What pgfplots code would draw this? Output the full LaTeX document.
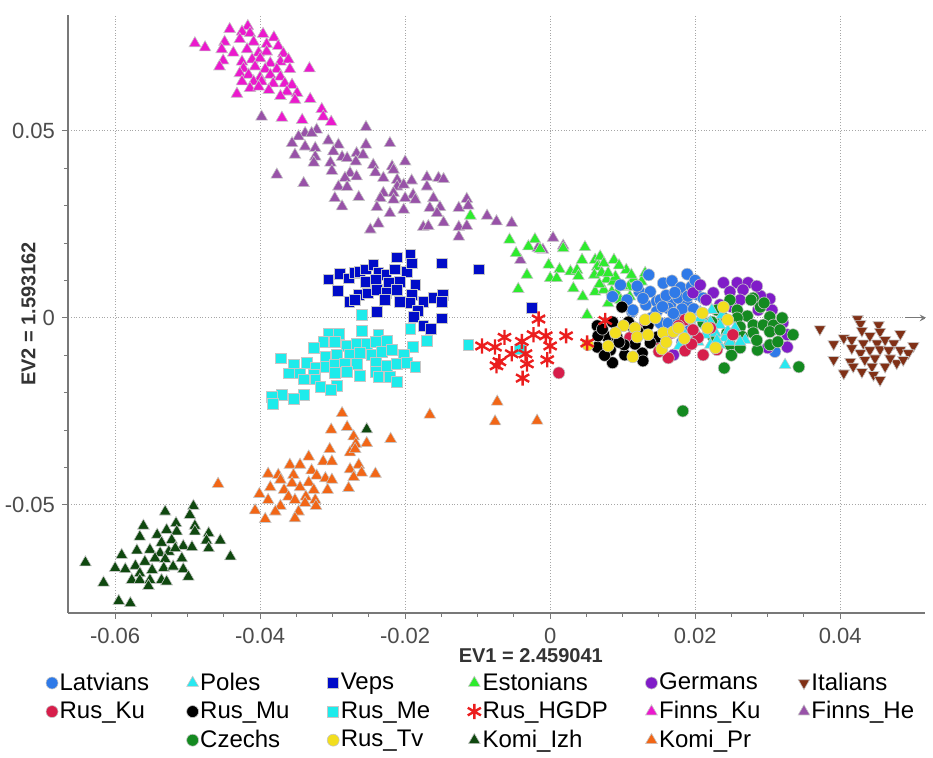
\documentclass[border=0pt]{standalone}
\usepackage{pgfplots}
\pgfplotsset{compat=1.18}
\usepackage{fontspec}
\setmainfont{Liberation Sans}
\definecolor{cLat}{RGB}{47,122,232}
\definecolor{cPol}{RGB}{40,232,240}
\definecolor{cVep}{RGB}{0,12,200}
\definecolor{cEst}{RGB}{45,235,45}
\definecolor{cGer}{RGB}{128,28,200}
\definecolor{cIta}{RGB}{128,48,22}
\definecolor{cRku}{RGB}{215,30,75}
\definecolor{cRmu}{RGB}{0,0,0}
\definecolor{cRme}{RGB}{30,235,235}
\definecolor{cHGD}{RGB}{235,30,30}
\definecolor{cFku}{RGB}{235,25,205}
\definecolor{cFhe}{RGB}{152,82,168}
\definecolor{cCze}{RGB}{20,138,32}
\definecolor{cRtv}{RGB}{242,222,30}
\definecolor{cKiz}{RGB}{15,72,15}
\definecolor{cKpr}{RGB}{242,102,22}
\definecolor{spine}{RGB}{120,120,120}
\pgfplotsset{
 circ/.style={only marks, mark=*, mark size=3.0pt, mark options={fill=#1, draw=white!55!gray, line width=0.3pt}},
 tri/.style={only marks, mark=triangle*, mark size=3.4pt, mark options={fill=#1, draw=white!55!gray, line width=0.3pt}},
 sq/.style={only marks, mark=square*, mark size=2.7pt, mark options={fill=#1, draw=white!55!gray, line width=0.3pt}},
 dtri/.style={only marks, mark=triangle*, mark size=3.3pt, mark options={rotate=180, fill=#1, draw=white!55!gray, line width=0.3pt}},
 stars/.style={only marks, mark=asterisk, mark size=3.8pt, mark options={draw=#1, line width=1.2pt}},
}
\begin{document}
\begin{tikzpicture}
\useasboundingbox (0,0) rectangle (466.5pt,379pt);
\begin{axis}[
 at={(34pt,72.5pt)}, anchor=south west,
 scale only axis, width=428.5pt, height=299pt,
 xmin=-0.0665, xmax=0.0517, ymin=-0.0789, ymax=0.081,
 axis x line*=bottom, axis y line*=left,
 axis line style={spine, line width=0.8pt},
 scaled ticks=false,
 xtick={-0.06,-0.04,-0.02,0,0.02,0.04},
 xticklabels={-0.06,-0.04,-0.02,0,0.02,0.04},
 ytick={-0.05,0,0.05},
 yticklabels={-0.05,0,0.05},
 minor x tick num=3, minor y tick num=4,
 tick align=outside,
 major tick length=3pt, minor tick length=2pt,
 tick style={spine, line width=0.5pt},
 grid=major,
 major grid style={densely dotted, gray!70, line width=0.5pt},
 xticklabel style={font=\fontsize{11}{13}\selectfont, text=black!70, yshift=-1pt},
 yticklabel style={font=\fontsize{11}{13}\selectfont, text=black!70},
 xlabel={\textbf{EV1 = 2.459041}},
 ylabel={\textbf{EV2 = 1.593162}},
 xlabel style={font=\fontsize{10}{12}\selectfont, text=black!80, at={(axis description cs:0.54,-0.072)}, anchor=center},
 ylabel style={font=\fontsize{10}{12}\selectfont, text=black!80, at={(axis description cs:-0.046,0.5)}, anchor=center},
 legend columns=6,
 legend style={at={(-0.046,-0.09)}, anchor=north west, draw=none, fill=none,
   font=\fontsize{12}{14}\selectfont, row sep=2.5pt,
   nodes={inner sep=0.8pt},
   /tikz/every even column/.append style={column sep=18pt}},
 legend cell align=left,
]
% Finns_He
\addplot[tri=cFhe, forget plot] table {
x y
-0.0398 0.0538
-0.0254 0.0510
-0.0322 0.0503
-0.0338 0.0494
-0.0329 0.0494
-0.0347 0.0485
-0.0356 0.0467
-0.0338 0.0458
-0.0324 0.0454
-0.0306 0.0474
-0.0292 0.0463
-0.0299 0.0445
-0.0254 0.0463
-0.0221 0.0467
-0.0352 0.0436
-0.0324 0.0431
-0.0326 0.0415
-0.0303 0.0415
-0.0287 0.0430
-0.0280 0.0427
-0.0267 0.0440
-0.0258 0.0436
-0.0268 0.0418
-0.0244 0.0409
-0.0218 0.0405
-0.0200 0.0418
-0.0301 0.0393
-0.0276 0.0387
-0.0241 0.0389
-0.0216 0.0396
-0.0377 0.0383
-0.0340 0.0360
-0.0283 0.0374
-0.0267 0.0378
-0.0230 0.0374
-0.0211 0.0369
-0.0191 0.0367
-0.0170 0.0376
-0.0154 0.0374
-0.0147 0.0371
-0.0292 0.0351
-0.0280 0.0350
-0.0211 0.0351
-0.0202 0.0356
-0.0170 0.0351
-0.0230 0.0334
-0.0216 0.0334
-0.0189 0.0329
-0.0297 0.0320
-0.0264 0.0323
-0.0234 0.0320
-0.0216 0.0316
-0.0200 0.0320
-0.0186 0.0316
-0.0161 0.0320
-0.0115 0.0318
-0.0287 0.0298
-0.0239 0.0296
-0.0202 0.0289
-0.0166 0.0294
-0.0152 0.0296
-0.0126 0.0294
-0.0113 0.0300
-0.0221 0.0280
-0.0156 0.0280
-0.0087 0.0273
-0.0074 0.0258
-0.0053 0.0254
-0.0237 0.0252
-0.0147 0.0255
-0.0248 0.0236
-0.0175 0.0243
-0.0168 0.0245
-0.0126 0.0243
-0.0115 0.0246
-0.0126 0.0217
0.0004 0.0214
0.0018 0.0193
-0.0010 0.0182
-0.0041 0.0155
-0.0017 0.0187
};
% Finns_Ku
\addplot[tri=cFku, forget plot] table {
x y
-0.0442 0.0772
-0.0417 0.0780
-0.0425 0.0765
-0.0414 0.0761
-0.0396 0.0759
-0.0381 0.0750
-0.0490 0.0734
-0.0476 0.0723
-0.0449 0.0738
-0.0428 0.0745
-0.0409 0.0738
-0.0391 0.0732
-0.0375 0.0727
-0.0453 0.0718
-0.0437 0.0709
-0.0418 0.0718
-0.0402 0.0709
-0.0391 0.0712
-0.0368 0.0707
-0.0451 0.0688
-0.0425 0.0685
-0.0411 0.0691
-0.0400 0.0694
-0.0386 0.0681
-0.0372 0.0685
-0.0361 0.0691
-0.0456 0.0672
-0.0423 0.0667
-0.0407 0.0672
-0.0393 0.0665
-0.0377 0.0665
-0.0359 0.0665
-0.0332 0.0667
-0.0428 0.0654
-0.0416 0.0650
-0.0400 0.0643
-0.0386 0.0650
-0.0372 0.0645
-0.0425 0.0632
-0.0409 0.0632
-0.0398 0.0632
-0.0382 0.0627
-0.0366 0.0627
-0.0356 0.0623
-0.0432 0.0599
-0.0414 0.0614
-0.0402 0.0618
-0.0388 0.0609
-0.0363 0.0605
-0.0349 0.0601
-0.0372 0.0593
-0.0352 0.0583
-0.0331 0.0585
-0.0315 0.0558
-0.0313 0.0538
-0.0370 0.0535
-0.0342 0.0529
-0.0302 0.0524
};
% Veps
\addplot[sq=cVep, forget plot] table {
x y
-0.0306 0.0103
-0.0293 0.0073
-0.0290 0.0118
-0.0278 0.0106
-0.0269 0.0120
-0.0262 0.0124
-0.0254 0.0130
-0.0244 0.0142
-0.0237 0.0121
-0.0226 0.0115
-0.0214 0.0130
-0.0198 0.0124
-0.0211 0.0162
-0.0193 0.0168
-0.0191 0.0146
-0.0149 0.0146
-0.0255 0.0097
-0.0241 0.0102
-0.0223 0.0094
-0.0207 0.0097
-0.0186 0.0088
-0.0277 0.0044
-0.0264 0.0061
-0.0251 0.0066
-0.0239 0.0075
-0.0226 0.0068
-0.0211 0.0075
-0.0191 0.0061
-0.0269 0.0048
-0.0228 0.0048
-0.0207 0.0044
-0.0193 0.0041
-0.0175 0.0044
-0.0161 0.0053
-0.0148 0.0061
-0.0149 0.0044
-0.0239 0.0017
-0.0182 0.0020
-0.0188 0.0002
-0.0149 -0.0001
-0.0175 -0.0021
-0.0165 -0.0030
-0.0098 0.0130
-0.0025 0.0026
};
% Rus_Me
\addplot[sq=cRme, forget plot] table {
x y
-0.0260 0.0008
-0.0306 -0.0043
-0.0291 -0.0043
-0.0260 -0.0034
-0.0237 -0.0045
-0.0193 -0.0030
-0.0170 -0.0061
-0.0189 -0.0077
-0.0313 -0.0063
-0.0297 -0.0063
-0.0281 -0.0075
-0.0267 -0.0070
-0.0253 -0.0070
-0.0241 -0.0063
-0.0225 -0.0061
-0.0326 -0.0081
-0.0310 -0.0103
-0.0294 -0.0099
-0.0277 -0.0099
-0.0262 -0.0094
-0.0246 -0.0099
-0.0232 -0.0090
-0.0218 -0.0086
-0.0202 -0.0099
-0.0371 -0.0108
-0.0354 -0.0126
-0.0336 -0.0120
-0.0324 -0.0134
-0.0310 -0.0130
-0.0297 -0.0126
-0.0283 -0.0123
-0.0267 -0.0123
-0.0241 -0.0121
-0.0225 -0.0128
-0.0211 -0.0123
-0.0198 -0.0121
-0.0186 -0.0130
-0.0361 -0.0148
-0.0345 -0.0148
-0.0326 -0.0152
-0.0297 -0.0146
-0.0280 -0.0144
-0.0262 -0.0155
-0.0241 -0.0144
-0.0237 -0.0157
-0.0221 -0.0157
-0.0340 -0.0164
-0.0324 -0.0164
-0.0211 -0.0170
-0.0317 -0.0184
-0.0294 -0.0182
-0.0303 -0.0193
-0.0340 -0.0206
-0.0354 -0.0217
-0.0370 -0.0206
-0.0384 -0.0210
-0.0382 -0.0230
-0.0113 -0.0072
-0.0042 -0.0084
};
% Komi_Pr
\addplot[tri=cKpr, forget plot] table {
x y
-0.0287 -0.0255
-0.0302 -0.0299
-0.0280 -0.0292
-0.0220 -0.0324
-0.0271 -0.0317
-0.0268 -0.0337
-0.0253 -0.0335
-0.0304 -0.0351
-0.0276 -0.0360
-0.0269 -0.0351
-0.0333 -0.0371
-0.0313 -0.0384
-0.0301 -0.0384
-0.0359 -0.0393
-0.0345 -0.0393
-0.0264 -0.0393
-0.0276 -0.0405
-0.0260 -0.0414
-0.0241 -0.0417
-0.0389 -0.0417
-0.0375 -0.0420
-0.0354 -0.0420
-0.0329 -0.0408
-0.0322 -0.0422
-0.0310 -0.0429
-0.0301 -0.0433
-0.0271 -0.0426
-0.0386 -0.0453
-0.0372 -0.0433
-0.0356 -0.0442
-0.0345 -0.0453
-0.0333 -0.0440
-0.0326 -0.0460
-0.0307 -0.0460
-0.0278 -0.0455
-0.0367 -0.0460
-0.0401 -0.0471
-0.0389 -0.0487
-0.0361 -0.0478
-0.0352 -0.0487
-0.0337 -0.0478
-0.0324 -0.0487
-0.0338 -0.0495
-0.0323 -0.0503
-0.0372 -0.0503
-0.0379 -0.0518
-0.0407 -0.0515
-0.0347 -0.0518
-0.0393 -0.0538
-0.0352 -0.0536
-0.0458 -0.0444
-0.0166 -0.0259
-0.0073 -0.0224
-0.0076 -0.0277
-0.0018 -0.0275
};
% Komi_Izh
\addplot[tri=cKiz, forget plot] table {
x y
-0.0253 -0.0298
-0.0492 -0.0503
-0.0531 -0.0518
-0.0497 -0.0527
-0.0561 -0.0556
-0.0516 -0.0549
-0.0490 -0.0556
-0.0566 -0.0585
-0.0542 -0.0580
-0.0529 -0.0567
-0.0515 -0.0571
-0.0490 -0.0571
-0.0471 -0.0576
-0.0455 -0.0595
-0.0536 -0.0601
-0.0522 -0.0594
-0.0506 -0.0610
-0.0494 -0.0613
-0.0474 -0.0595
-0.0471 -0.0616
-0.0570 -0.0622
-0.0552 -0.0620
-0.0538 -0.0629
-0.0526 -0.0625
-0.0517 -0.0616
-0.0591 -0.0634
-0.0559 -0.0652
-0.0545 -0.0643
-0.0531 -0.0645
-0.0508 -0.0643
-0.0441 -0.0638
-0.0641 -0.0654
-0.0600 -0.0669
-0.0586 -0.0672
-0.0572 -0.0663
-0.0566 -0.0683
-0.0549 -0.0674
-0.0533 -0.0669
-0.0520 -0.0665
-0.0506 -0.0672
-0.0577 -0.0701
-0.0566 -0.0701
-0.0552 -0.0701
-0.0536 -0.0701
-0.0529 -0.0705
-0.0499 -0.0692
-0.0616 -0.0708
-0.0554 -0.0717
-0.0595 -0.0757
-0.0579 -0.0763
};
% Estonians
\addplot[tri=cEst, forget plot] table {
x y
-0.0110 0.0273
-0.0056 0.0209
-0.0021 0.0210
-0.0047 0.0173
-0.0030 0.0191
-0.0014 0.0184
0.0018 0.0186
0.0048 0.0189
-0.0032 0.0115
-0.0044 0.0077
-0.0002 0.0142
0.0000 0.0106
0.0013 0.0130
0.0009 0.0106
0.0044 0.0155
0.0028 0.0124
0.0037 0.0128
0.0039 0.0112
0.0032 0.0079
0.0045 0.0057
0.0062 0.0155
0.0069 0.0164
0.0088 0.0155
0.0065 0.0137
0.0074 0.0146
0.0061 0.0115
0.0071 0.0121
0.0078 0.0103
0.0105 0.0128
0.0062 0.0070
0.0074 0.0075
0.0051 0.0008
0.0115 0.0103
0.0126 0.0097
0.0131 0.0120
0.0092 0.0066
0.0110 0.0057
0.0080 0.0039
0.0087 0.0097
0.0097 0.0048
0.0124 0.0075
0.0090 0.0110
0.0108 0.0083
0.0080 0.0120
0.0095 0.0140
0.0100 0.0085
0.0112 0.0115
0.0068 0.0090
0.0085 0.0070
};
% Italians
\addplot[dtri=cIta, forget plot] table {
x y
0.0372 -0.0030
0.0424 -0.0003
0.0428 -0.0016
0.0453 -0.0019
0.0430 -0.0034
0.0455 -0.0037
0.0483 -0.0043
0.0391 -0.0070
0.0405 -0.0054
0.0416 -0.0059
0.0416 -0.0081
0.0432 -0.0068
0.0441 -0.0048
0.0451 -0.0068
0.0462 -0.0059
0.0474 -0.0068
0.0501 -0.0075
0.0428 -0.0094
0.0441 -0.0086
0.0455 -0.0084
0.0467 -0.0086
0.0483 -0.0086
0.0494 -0.0094
0.0391 -0.0112
0.0414 -0.0117
0.0434 -0.0112
0.0448 -0.0108
0.0462 -0.0130
0.0478 -0.0121
0.0487 -0.0112
0.0418 -0.0130
0.0444 -0.0130
0.0405 -0.0148
0.0430 -0.0144
0.0446 -0.0152
0.0455 -0.0166
0.0469 -0.0108
};
% Latvians
\addplot[circ=cLat, forget plot] table {
x y
0.0136 0.0115
0.0189 0.0117
0.0086 0.0057
0.0106 0.0048
0.0123 0.0070
0.0138 0.0070
0.0156 0.0093
0.0168 0.0099
0.0180 0.0081
0.0195 0.0084
0.0202 0.0063
0.0132 0.0035
0.0147 0.0044
0.0166 0.0037
0.0177 0.0053
0.0189 0.0035
0.0113 0.0017
0.0147 0.0017
0.0163 0.0026
0.0182 0.0024
0.0198 0.0024
0.0211 0.0053
0.0138 -0.0008
0.0152 -0.0014
0.0163 -0.0014
0.0177 -0.0005
0.0182 -0.0065
0.0124 -0.0032
0.0193 -0.0032
0.0310 -0.0090
0.0097 0.0088
0.0114 0.0021
0.0152 0.0048
0.0160 0.0060
0.0172 0.0068
0.0128 0.0052
0.0190 0.0058
0.0170 0.0012
0.0155 0.0030
0.0120 0.0085
0.0200 0.0100
0.0140 0.0000
};
% Germans
\addplot[circ=cGer, forget plot] table {
x y
0.0239 0.0094
0.0258 0.0094
0.0273 0.0094
0.0248 0.0070
0.0266 0.0075
0.0225 0.0067
0.0215 0.0048
0.0197 0.0067
0.0303 0.0051
0.0287 0.0021
0.0306 0.0021
0.0321 -0.0013
0.0327 -0.0045
0.0327 -0.0078
0.0170 -0.0099
0.0290 0.0059
0.0234 0.0035
0.0262 0.0048
0.0207 0.0088
0.0285 0.0085
0.0310 -0.0030
0.0300 -0.0080
0.0250 0.0030
};
% Czechs
\addplot[circ=cCze, forget plot] table {
x y
0.0248 0.0048
0.0280 0.0053
0.0230 0.0021
0.0258 0.0021
0.0272 0.0005
0.0290 0.0029
0.0303 0.0003
0.0239 0.0000
0.0258 0.0000
0.0223 -0.0011
0.0262 -0.0024
0.0280 -0.0019
0.0294 -0.0019
0.0308 -0.0019
0.0244 -0.0040
0.0280 -0.0040
0.0303 -0.0037
0.0317 -0.0032
0.0335 -0.0045
0.0248 -0.0072
0.0262 -0.0080
0.0286 -0.0086
0.0303 -0.0072
0.0314 -0.0064
0.0225 -0.0051
0.0240 -0.0134
0.0343 -0.0131
0.0183 -0.0249
0.0277 0.0048
0.0211 -0.0013
0.0285 -0.0060
0.0320 0.0000
0.0295 0.0040
0.0250 -0.0100
0.0265 -0.0050
};
% Poles
\addplot[tri=cPol, forget plot] table {
x y
0.0193 -0.0005
0.0207 0.0000
0.0221 -0.0011
0.0234 -0.0019
0.0200 -0.0032
0.0214 -0.0045
0.0228 -0.0040
0.0241 -0.0053
0.0204 -0.0064
0.0221 -0.0072
0.0234 -0.0072
0.0248 -0.0064
0.0207 0.0016
0.0223 0.0021
0.0186 -0.0045
0.0237 0.0008
0.0255 -0.0027
0.0269 -0.0059
0.0262 -0.0064
0.0324 -0.0126
0.0195 -0.0065
0.0215 -0.0020
0.0178 -0.0075
0.0245 -0.0035
0.0230 -0.0060
};
% Rus_Ku
\addplot[circ=cRku, forget plot] table {
x y
0.0186 -0.0005
0.0177 -0.0021
0.0204 -0.0053
0.0197 -0.0032
0.0186 -0.0088
0.0163 -0.0107
0.0211 -0.0099
0.0110 -0.0053
0.0252 -0.0045
0.0168 -0.0040
0.0145 -0.0059
0.0131 -0.0011
0.0221 -0.0027
0.0012 -0.0147
0.0150 -0.0090
0.0230 -0.0085
0.0195 -0.0070
};
% Rus_Mu
\addplot[circ=cRmu, forget plot] table {
x y
0.0065 -0.0021
0.0086 -0.0011
0.0065 -0.0078
0.0083 -0.0086
0.0086 -0.0120
0.0103 -0.0099
0.0114 -0.0024
0.0127 -0.0094
0.0148 -0.0051
0.0138 -0.0067
0.0099 0.0029
0.0079 -0.0051
0.0092 -0.0051
0.0117 -0.0070
0.0128 -0.0115
0.0102 -0.0072
0.0066 -0.0048
0.0124 -0.0040
0.0108 -0.0011
0.0075 -0.0100
0.0095 -0.0065
0.0135 -0.0020
0.0072 -0.0030
};
% Rus_Tv
\addplot[circ=cRtv, forget plot] table {
x y
0.0101 -0.0021
0.0117 -0.0027
0.0120 -0.0051
0.0131 -0.0005
0.0052 -0.0072
0.0156 -0.0040
0.0170 -0.0037
0.0217 -0.0027
0.0210 0.0013
0.0239 0.0029
0.0228 -0.0080
0.0154 -0.0083
0.0114 -0.0104
0.0135 -0.0045
0.0177 -0.0027
0.0145 0.0000
0.0193 0.0000
0.0090 -0.0040
0.0160 -0.0065
0.0185 -0.0055
0.0245 -0.0005
0.0080 -0.0075
};
% Rus_HGDP
\addplot[stars=cHGD, forget plot] table {
x y
-0.0016 -0.0003
-0.0023 -0.0045
-0.0006 -0.0048
0.0022 -0.0048
-0.0063 -0.0052
-0.0094 -0.0075
-0.0076 -0.0078
-0.0039 -0.0063
0.0000 -0.0075
-0.0053 -0.0096
-0.0034 -0.0096
-0.0070 -0.0117
-0.0032 -0.0123
-0.0004 -0.0112
-0.0074 -0.0128
-0.0038 -0.0161
0.0076 -0.0007
0.0051 -0.0067
};
\draw[spine, line width=0.5pt, -stealth] (axis cs:0.0490,0) -- (axis cs:0.0519,0);
% legend
\addlegendimage{circ=cLat}\addlegendentry{Latvians}
\addlegendimage{tri=cPol}\addlegendentry{Poles}
\addlegendimage{sq=cVep}\addlegendentry{Veps}
\addlegendimage{tri=cEst}\addlegendentry{Estonians}
\addlegendimage{circ=cGer}\addlegendentry{Germans}
\addlegendimage{dtri=cIta}\addlegendentry{Italians}
\addlegendimage{circ=cRku}\addlegendentry{Rus\_Ku}
\addlegendimage{circ=cRmu}\addlegendentry{Rus\_Mu}
\addlegendimage{sq=cRme}\addlegendentry{Rus\_Me}
\addlegendimage{stars=cHGD}\addlegendentry{Rus\_HGDP}
\addlegendimage{tri=cFku}\addlegendentry{Finns\_Ku}
\addlegendimage{tri=cFhe}\addlegendentry{Finns\_He}
\addlegendimage{empty legend}\addlegendentry{}
\addlegendimage{circ=cCze}\addlegendentry{Czechs}
\addlegendimage{circ=cRtv}\addlegendentry{Rus\_Tv}
\addlegendimage{tri=cKiz}\addlegendentry{Komi\_Izh}
\addlegendimage{tri=cKpr}\addlegendentry{Komi\_Pr}
\end{axis}
\end{tikzpicture}
\end{document}
